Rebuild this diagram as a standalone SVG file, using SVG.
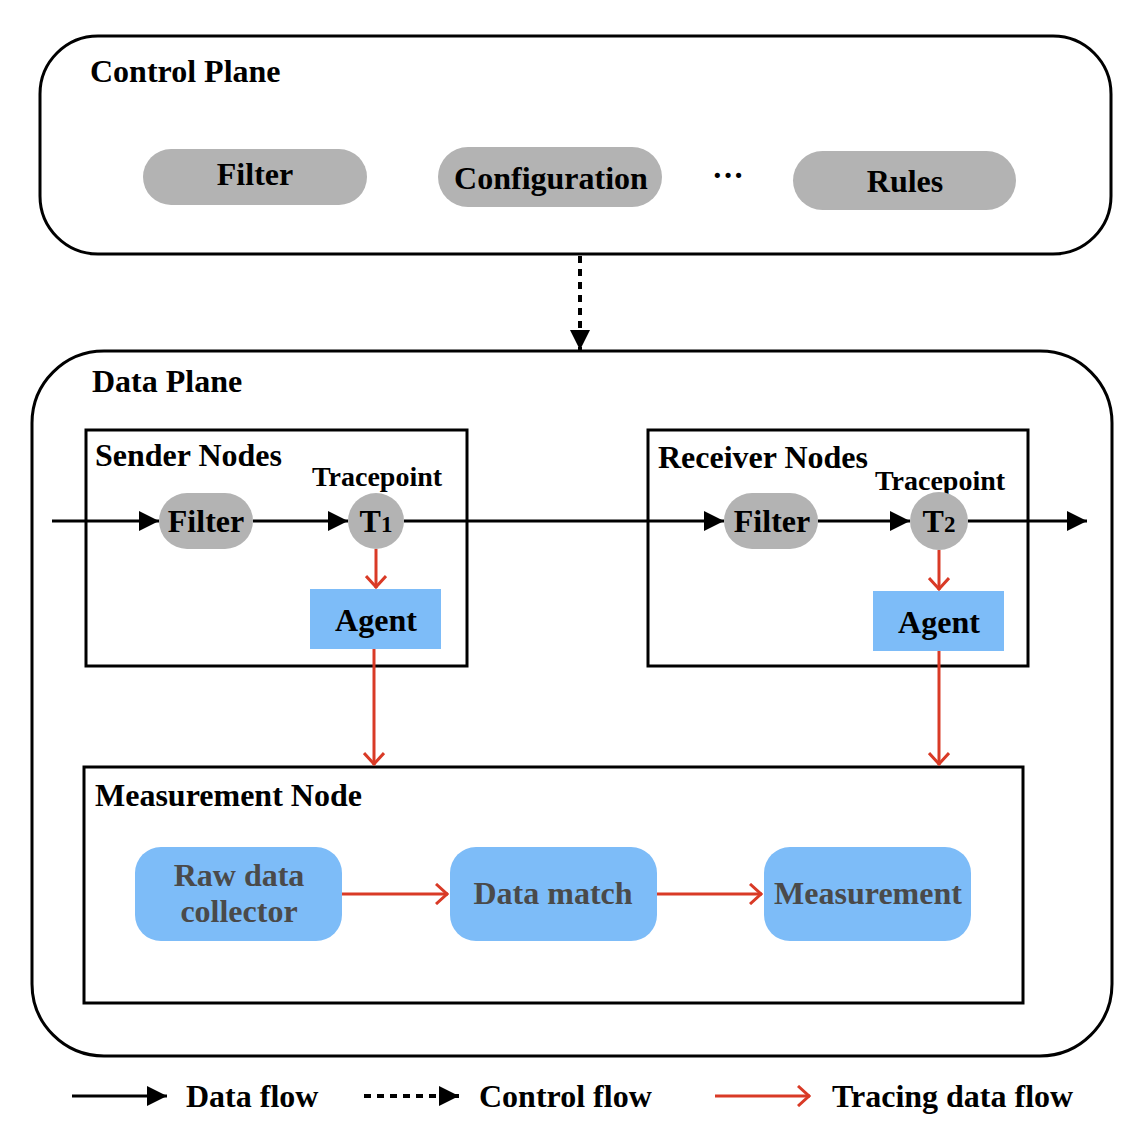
<svg xmlns="http://www.w3.org/2000/svg" width="1148" height="1130" viewBox="0 0 1148 1130">
<style>
text{font-family:"Liberation Serif","Times New Roman",serif;font-weight:bold;fill:#000}
.t28{font-size:32px}
.t24{font-size:28px}
.c{text-anchor:middle}
.pill{fill:#b3b3b3}
.blue{fill:#7dbcf8}
.frame{fill:none;stroke:#000;stroke-width:3}
.bl{stroke:#000;stroke-width:3;fill:none}
.dash{stroke:#000;stroke-width:4;fill:none;stroke-dasharray:7,6}
.red{stroke:#d93a26;stroke-width:3;fill:none}
.gr{fill:#4a4a4a}
</style>
<defs>
<marker id="ab" viewBox="0 0 10 10" refX="10" refY="5" markerWidth="20" markerHeight="20" markerUnits="userSpaceOnUse" orient="auto"><path d="M0,0 L10,5 L0,10 Z" fill="#000"/></marker>
<marker id="ar" viewBox="0 0 14 22" refX="13" refY="11" markerWidth="14" markerHeight="22" markerUnits="userSpaceOnUse" orient="auto"><path d="M1,1 L12,11 L1,21" fill="none" stroke="#d93a26" stroke-width="3"/></marker>
</defs>

<g id="control-plane">
<rect x="40" y="36" width="1071" height="218" rx="58" class="frame"/>
<text x="90" y="82" class="t28">Control Plane</text>
</g>
<g id="cp-filter"><rect x="143" y="149" width="224" height="56" rx="28" class="pill"/><text x="255" y="185" class="t28 c">Filter</text></g>
<g id="cp-config"><rect x="438" y="147" width="224" height="60" rx="30" class="pill"/><text x="551" y="189" class="t28 c">Configuration</text></g>
<text x="728" y="186" class="t28 c">···</text>
<g id="cp-rules"><rect x="793" y="151" width="223" height="59" rx="29.5" class="pill"/><text x="905" y="192" class="t28 c">Rules</text></g>

<g id="data-plane">
<rect x="32" y="351" width="1080" height="705" rx="72" class="frame"/>
<text x="92" y="392" class="t28">Data Plane</text>
</g>

<g id="sender-nodes">
<rect x="86" y="430" width="381" height="236" class="frame"/>
<text x="95" y="466" class="t28">Sender Nodes</text>
<text x="377" y="486" class="t24 c">Tracepoint</text>
</g>
<g id="s-filter"><rect x="159" y="493" width="94" height="56" rx="28" class="pill"/><text x="206" y="532" class="t28 c">Filter</text></g>
<g id="t1"><circle cx="376" cy="521" r="28" class="pill"/><text x="376" y="532" class="t28 c">T<tspan font-size="23">1</tspan></text></g>
<g id="s-agent"><rect x="310" y="589" width="131" height="60" class="blue"/><text x="376" y="631" class="t28 c">Agent</text></g>

<g id="receiver-nodes">
<rect x="648" y="430" width="380" height="236" class="frame"/>
<text x="658" y="468" class="t28">Receiver Nodes</text>
<text x="940" y="490" class="t24 c">Tracepoint</text>
</g>
<g id="r-filter"><rect x="724" y="493" width="94" height="56" rx="28" class="pill"/><text x="772" y="532" class="t28 c">Filter</text></g>
<g id="t2"><circle cx="939" cy="521" r="29" class="pill"/><text x="939" y="532" class="t28 c">T<tspan font-size="23">2</tspan></text></g>
<g id="r-agent"><rect x="873" y="591" width="131" height="60" class="blue"/><text x="939" y="633" class="t28 c">Agent</text></g>

<g id="measurement-node">
<rect x="84" y="767" width="939" height="236" class="frame"/>
<text x="95" y="806" class="t28">Measurement Node</text>
</g>
<g id="raw"><rect x="135" y="847" width="207" height="94" rx="26" class="blue"/><text x="239" y="886" class="t28 c gr">Raw data</text><text x="239" y="922" class="t28 c gr">collector</text></g>
<g id="match"><rect x="450" y="847" width="207" height="94" rx="26" class="blue"/><text x="553" y="904" class="t28 c gr">Data match</text></g>
<g id="meas"><rect x="764" y="847" width="207" height="94" rx="26" class="blue"/><text x="868" y="904" class="t28 c gr">Measurement</text></g>

<g id="connectors">
<line x1="580" y1="256" x2="580" y2="350" class="dash" marker-end="url(#ab)"/>
<line x1="52" y1="521" x2="159" y2="521" class="bl" marker-end="url(#ab)"/>
<line x1="253" y1="521" x2="348" y2="521" class="bl" marker-end="url(#ab)"/>
<line x1="404" y1="521" x2="724" y2="521" class="bl" marker-end="url(#ab)"/>
<line x1="818" y1="521" x2="910" y2="521" class="bl" marker-end="url(#ab)"/>
<line x1="968" y1="521" x2="1087" y2="521" class="bl" marker-end="url(#ab)"/>
<line x1="376" y1="549" x2="376" y2="588" class="red" marker-end="url(#ar)"/>
<line x1="939" y1="550" x2="939" y2="590" class="red" marker-end="url(#ar)"/>
<line x1="374" y1="649" x2="374" y2="765" class="red" marker-end="url(#ar)"/>
<line x1="939" y1="651" x2="939" y2="765" class="red" marker-end="url(#ar)"/>
<line x1="342" y1="894" x2="448" y2="894" class="red" marker-end="url(#ar)"/>
<line x1="657" y1="894" x2="762" y2="894" class="red" marker-end="url(#ar)"/>
</g>

<g id="legend">
<line x1="72" y1="1096" x2="167" y2="1096" class="bl" marker-end="url(#ab)"/>
<text x="186" y="1107" class="t28">Data flow</text>
<line x1="364" y1="1096" x2="459" y2="1096" class="dash" marker-end="url(#ab)"/>
<text x="479" y="1107" class="t28">Control flow</text>
<line x1="715" y1="1096" x2="810" y2="1096" class="red" marker-end="url(#ar)"/>
<text x="832" y="1107" class="t28">Tracing data flow</text>
</g>
</svg>
